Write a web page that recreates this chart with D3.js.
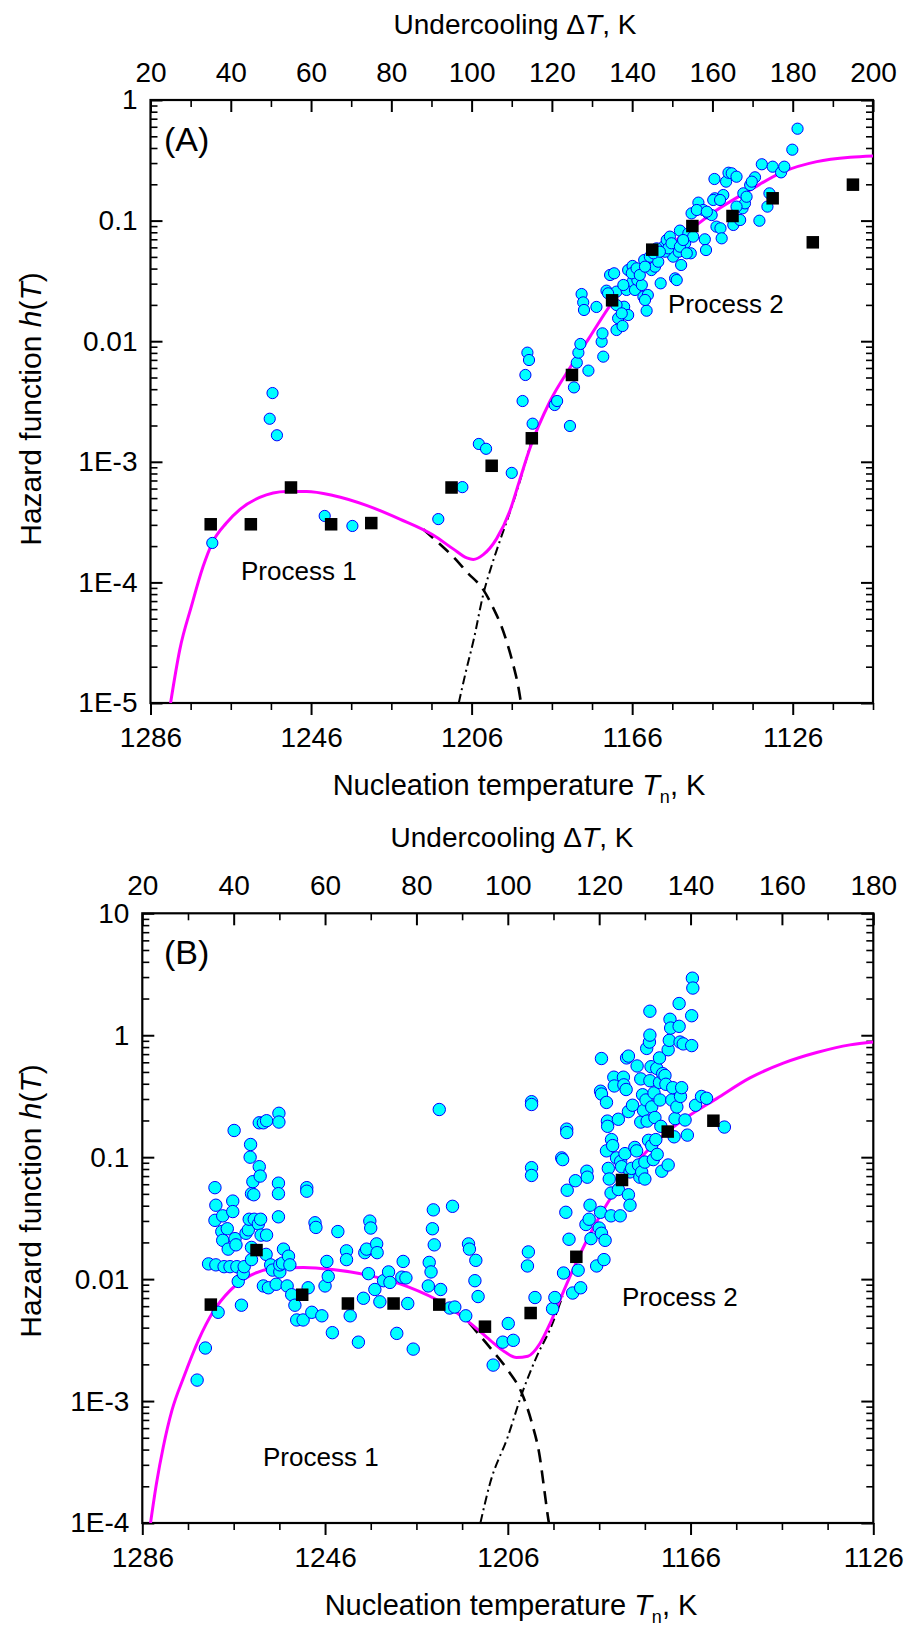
<!DOCTYPE html>
<html>
<head>
<meta charset="utf-8">
<script src="https://cdn.jsdelivr.net/npm/d3@7"></script>
<style>
  body { margin: 0; background: #fff; }
  svg text { font-family: "Liberation Sans", Arial, Helvetica, sans-serif; fill: #000; }
</style>
</head>
<body>
<svg id="chart" width="910" height="1627"></svg>
<script>
// all points are [undercooling dT in K, log10 h(T)]
const tMelt = 1306; // dT = tMelt - Tn

// ---- panel A ----
const aDots = [[35.4,-3.673],[50.4,-2.43],[49.7,-2.643],[51.5,-2.78],[63.4,-3.449],[70.3,-3.532],[91.7,-3.475],
  [97.7,-3.21],[101.8,-2.852],[103.6,-2.892],[110,-3.092],
  [112.7,-2.496],[113.4,-2.28],[113.9,-2.095],[114.3,-2.156],[115.2,-2.684],[120.7,-2.529],[121.3,-2.496],
  [124.5,-2.703],[125.5,-2.383],[126.2,-2.178],[126.6,-2.095],[127.1,-2.023],[129.1,-2.244],[127.4,-1.609],
  [127.8,-1.678],[128.0,-1.741],[131.1,-1.716],[132.4,-2.004],[132.6,-1.935],[132.8,-2.128],[133.6,-1.581],
  [134.5,-1.451],[135.5,-1.437],[136.1,-1.589],[136.5,-1.81],[136.1,-1.907],[137.6,-1.874],[138.0,-1.714],
  [139.0,-1.783],[138.6,-1.575],[139.0,-1.41],[140.1,-1.376],[140.1,-1.506],[140.7,-1.575],[141.3,-1.493],
  [142.4,-1.534],[142.8,-1.631],[143.6,-1.747],[143.9,-1.617],[143.0,-1.327],[144.4,-1.299],[144.8,-1.41],
  [145.7,-1.382],[146.5,-1.341],[147.1,-1.52],[147.8,-1.216],[148.6,-1.161],[149.4,-1.133],[150.2,-1.299],
  [150.7,-1.479],[151.1,-1.493],[151.6,-1.258],[151.9,-1.083],[152.2,-1.368],[153.2,-1.188],[154.0,-1.106],
  [154.8,-0.94],[154.6,-1.271],[155.2,-1.133],[156.5,-0.851],[157.7,-0.912],[158.1,-1.155],[158.4,-1.244],
  [158.9,-0.94],[159.8,-0.954],[160.6,-0.815],[160.5,-0.655],[161.0,-1.05],[162.0,-1.064],[162.3,-1.147],
  [162.7,-0.788],[163.4,-0.677],[164.0,-0.603],[164.8,-0.608],[166.0,-0.636],[165.2,-1.036],[166.9,-0.995],
  [167.5,-0.898],[168.1,-0.857],[167.7,-0.774],[169.4,-0.705],[170.6,-0.641],[171.7,-1.001],[172.3,-0.533],
  [173.7,-0.884],[174.2,-0.774],[175.0,-0.553],[177.1,-0.6],[177.9,-0.553],[179.9,-0.412],[181.2,-0.238],
  [137.8,-1.534],[139.9,-1.437],[141.1,-1.396],[141.9,-1.451],[143.2,-1.382],[145.3,-1.271],[146.1,-1.23],
  [148.2,-1.258],[149.0,-1.23],[149.8,-1.188],[151.9,-1.216],[153.6,-1.271],[156.1,-0.912],[158.6,-0.926],
  [160.2,-0.829],[161.9,-0.829],[166.0,-0.884],[168.5,-0.802],[169.8,-0.677],[136.1,-1.7],[137.4,-1.769],
  [134.0,-1.603],[143.2,-1.658],[146.9,-1.258],[152.7,-1.161]];
const aSquares = [[35,-3.518],[45,-3.518],[55,-3.213],[65,-3.518],[75,-3.508],[95,-3.213],[105,-3.033],
  [115,-2.805],[125,-2.28],[135,-1.661],[145,-1.241],[155,-1.045],[165,-0.962],[175,-0.815],[185,-1.18],[195,-0.702]];
const aFit = [[25.0,-5.0],[27.3,-4.557],[30.2,-4.197],[33.1,-3.869],[35.4,-3.672],[38.9,-3.508],[42.3,-3.394],
  [47.2,-3.295],[53.9,-3.246],[58.9,-3.246],[65.5,-3.279],[73.8,-3.361],[82.1,-3.475],[90.4,-3.607],
  [95.4,-3.722],[98.8,-3.797],[100.4,-3.81],[102.9,-3.77],[106.2,-3.639],[109.5,-3.41],[111.9,-3.16],
  [114.5,-2.89],[119.5,-2.5],[124.9,-2.2],[129.5,-1.962],[135,-1.68],[141.1,-1.437],[147.8,-1.244],
  [154.4,-1.078],[161.1,-0.912],[169.4,-0.746],[177.7,-0.594],[186,-0.511],[194.3,-0.475],[200,-0.464]];
const aProc1 = [[88,-3.56],[92,-3.68],[95.5,-3.79],[99,-3.92],[102.9,-4.06],[105.5,-4.22],[107.5,-4.37],
  [109,-4.52],[110.5,-4.7],[111.6,-4.86],[112.3,-5.0]];
const aProc2 = [[96.8,-5.0],[98.5,-4.75],[100.5,-4.478],[102.9,-4.1],[105,-3.86],[107,-3.66],[109,-3.47],
  [111,-3.27],[113,-3.05],[115,-2.82]];
const aDTTicks = [20,40,60,80,100,120,140,160,180,200];
const aTnTicks = [1286,1246,1206,1166,1126];
const aHTicks = [1e-5,1e-4,1e-3,0.01,0.1,1];
const aHLabels = ["1E-5","1E-4","1E-3","0.01","0.1","1"];

// ---- panel B ----
const bDots = [[33.8,-2.565],[35.9,-1.25],[36.1,-1.394],[35.9,-1.518],[34.5,-1.875],[36.1,-1.883],[36.6,-2.272],
  [37.6,-1.481],[37.4,-1.61],[37.6,-1.682],[38.6,-1.587],[38.8,-1.754],[37.9,-1.898],[39.2,-1.898],[39.8,-1.36],
  [39.8,-1.446],[40.1,-0.781],[40.3,-1.668],[40.5,-1.719],[40.7,-1.898],[41.0,-2.019],[41.7,-2.214],[42.1,-1.955],
  [42.3,-1.898],[42.7,-1.624],[43.2,-1.596],[43.4,-1.509],[43.7,-0.896],[43.6,-1.0],[43.9,-1.299],[44.2,-1.201],
  [44.4,-1.308],[44.5,-1.509],[43.9,-1.74],[43.9,-1.84],[45.4,-1.547],[45.6,-1.078],[45.8,-1.155],[45.9,-1.509],
  [46.0,-1.639],[45.6,-0.718],[46.5,-0.718],[47.2,-0.701],[47.2,-1.639],[47.1,-1.797],[46.5,-2.056],[47.6,-2.071],
  [48.1,-1.883],[48.5,-1.926],[49.3,-2.042],[50.1,-1.941],[50.1,-1.883],[49.8,-1.489],[49.8,-1.213],[49.8,-1.299],
  [49.9,-0.64],[49.9,-0.712],[50.9,-1.754],[50.7,-1.869],[51.7,-2.056],[52.0,-1.812],[52.3,-1.883],[52.7,-2.128],
  [53.4,-2.214],[53.8,-2.335],[55.2,-2.335],[56.3,-2.071],[56.0,-1.25],[56.0,-1.279],[57.1,-2.272],[57.8,-1.538],
  [58.0,-1.576],[59.3,-2.301],[60.0,-2.056],[60.4,-1.855],[60.7,-1.978],[61.6,-2.439],[62.8,-1.61],[64.7,-1.768],
  [64.7,-1.84],[65.5,-2.301],[67.3,-2.517],[68.4,-2.157],[68.7,-1.783],[69.1,-1.754],[69.5,-1.955],[69.8,-1.524],
  [70.0,-1.581],[70.9,-2.085],[71.3,-1.711],[71.4,-1.783],[72.0,-2.186],[72.8,-2.013],[73.9,-1.941],[74.2,-2.027],
  [75.7,-2.445],[76.8,-1.984],[77.1,-1.855],[77.7,-1.99],[78.1,-2.2],[79.3,-2.574],[82.6,-2.056],[82.8,-1.863],
  [83.2,-1.941],[83.5,-1.587],[83.7,-1.432],[83.9,-1.719],[85.0,-0.609],[85.3,-2.085],[87.3,-2.237],[88.4,-2.229],
  [87.9,-1.403],[90.8,-2.301],[91.4,-1.711],[91.6,-1.754],[93.0,-1.846],[92.8,-2.013],[93.5,-2.143],[98.9,-2.517],
  [100.1,-2.364],[101.2,-2.502],[32.0,-2.828],[96.8,-2.705],
  [104.5,-1.777],[104.3,-1.892],[105.2,-0.545],[105.2,-0.568],[105.2,-1.086],[105.2,-1.15],[105.95,-2.151],
  [109.8,-2.243],[110.3,-2.151],[112.2,-1.95],[111.8,-1.006],[112.0,-1.02],[112.9,-0.77],[112.9,-0.798],
  [113.0,-1.271],[112.7,-1.452],[113.4,-1.673],[114.2,-2.114],[114.8,-1.193],[115.4,-1.927],[115.95,-2.071],
  [117.3,-1.115],[117.4,-1.164],[117.1,-1.552],[118.0,-1.394],[118.2,-1.668],[117.8,-1.509],[119.45,-1.892],
  [120.0,-1.581],[120.3,-1.452],[120.5,-1.624],[121.05,-1.84],[121.3,-1.682],[120.5,-0.191],[120.3,-0.459],
  [120.5,-0.482],[121.6,-0.551],[121.8,-0.704],[121.85,-0.747],[121.6,-0.948],[122.0,-1.092],[122.2,-1.179],
  [122.6,-1.294],[122.7,-0.856],[122.95,-0.905],[122.6,-1.481],[123.2,-0.344],[123.3,-0.416],[123.8,-1.006],
  [124.2,-0.689],[124.2,-1.265],[124.6,-1.481],[124.7,-1.035],[124.9,-1.078],[125.3,-0.344],[125.4,-0.407],
  [125.65,-0.971],[125.9,-0.445],[126.0,-0.186],[126.4,-0.171],[126.4,-1.308],[126.4,-0.626],[126.75,-1.394],
  [126.75,-1.121],[127.3,-0.574],[127.1,-1.092],[127.8,-0.92],[128.2,-0.948],[128.3,-0.252],[128.6,-1.064],
  [128.9,-1.164],[129.1,-0.358],[129.1,-0.712],[129.3,-1.121],[129.5,-0.488],[129.7,-0.617],[130.0,-1.179],
  [130.0,-1.04],[130.25,-0.531],[130.4,-0.108],[130.5,-0.704],[130.8,-0.862],[131.0,-0.056],[131.1,-0.373],
  [131.1,0.197],[131.1,0.001],[131.35,-0.258],[131.5,-0.588],[131.5,-0.905],[131.85,-1.02],[132.0,-0.473],
  [132.2,-0.675],[132.4,-0.856],[132.6,-0.272],[132.7,-0.977],[133.2,-0.186],[133.2,-0.387],[133.3,-0.531],
  [133.5,-0.747],[133.7,-1.115],[133.9,-0.315],[134.4,-0.33],[134.6,-0.402],[135.1,-1.064],[135.1,-0.119],
  [135.35,-0.042],[135.5,0.131],[135.65,0.059],[135.9,-0.531],[136.1,-0.43],[136.4,-0.833],[136.6,-0.684],
  [137.0,-0.588],[137.5,0.26],[137.5,0.073],[137.7,-0.056],[137.8,-0.502],[138.05,-0.43],[138.8,-0.695],
  [138.4,-0.071],[139.3,-0.819],[140.25,-0.085],[140.4,0.468],[140.5,0.387],[140.25,0.16],[141.1,-0.574],
  [142.4,-0.502],[143.5,-0.517],[147.4,-0.753]];
const bSquares = [[35,-2.209],[45,-1.762],[55,-2.128],[65,-2.2],[75,-2.2],[85,-2.209],[95,-2.39],[105,-2.278],
  [115,-1.817],[125,-1.187],[135,-0.79],[145,-0.701]];
const bFit = [[21.8,-4.0],[23.1,-3.676],[24.6,-3.375],[26.5,-3.075],[29.1,-2.801],[32.3,-2.5],[35.5,-2.268],
  [39.3,-2.09],[43.8,-1.967],[48.9,-1.912],[55.3,-1.904],[61.6,-1.921],[69.3,-1.967],[78.2,-2.063],[85.9,-2.2],
  [92.3,-2.377],[96.1,-2.5],[99.3,-2.596],[101.9,-2.643],[104.4,-2.632],[107,-2.53],[109.3,-2.36],[112.2,-2.1],
  [114.9,-1.87],[118,-1.63],[121.6,-1.39],[125.3,-1.18],[129.7,-0.98],[134.8,-0.795],[139.9,-0.655],
  [145.7,-0.52],[153,-0.35],[160.3,-0.229],[167.6,-0.142],[174.9,-0.079],[180,-0.056]];
const bProc1 = [[88,-2.25],[91,-2.34],[93.6,-2.45],[96.5,-2.58],[100,-2.746],[103.1,-2.938],[105.3,-3.184],
  [107,-3.457],[108,-3.731],[108.9,-3.977],[109,-4.0]];
const bProc2 = [[94,-4.0],[96.1,-3.676],[100,-3.293],[103.1,-2.938],[106.3,-2.637],[109.5,-2.39],[112,-2.14]];
const bDTTicks = [20,40,60,80,100,120,140,160,180];
const bTnTicks = [1286,1246,1206,1166,1126];
const bHTicks = [1e-4,1e-3,0.01,0.1,1,10];
const bHLabels = ["1E-4","1E-3","0.01","0.1","1","10"];

const svg = d3.select("#chart");

function axisStyle(g) {
  g.select(".domain").remove();
  g.attr("font-size", 28).attr("font-family", null);
  g.selectAll(".tick line").attr("stroke", "#000");
  g.selectAll(".tick text").attr("fill", "#000");
}

function drawPanel(p) {
  const x = d3.scaleLinear().domain([p.dTTicks[0], p.dTTicks[p.dTTicks.length - 1]]).range([p.left, p.right]);
  const xT = d3.scaleLinear().domain([tMelt - x.domain()[0], tMelt - x.domain()[1]]).range([p.left, p.right]);
  const y = d3.scaleLog().domain([p.hTicks[0], p.hTicks[p.hTicks.length - 1]]).range([p.bottom, p.top]);
  const g = svg.append("g");
  const yv = d => y(Math.pow(10, d[1]));

  // minor ticks first
  const minorH = y.ticks().filter(v => !p.hTicks.some(t => Math.abs(t - v) / t < 1e-6));
  const minorDT = d3.range(x.domain()[0], x.domain()[1] + 1, 10).filter(v => !p.dTTicks.includes(v));
  const minorTn = d3.range(xT.domain()[0], xT.domain()[1] - 1, -10).filter(v => !p.tnTicks.includes(v));

  g.append("g").attr("transform", `translate(${p.left},0)`)
    .call(d3.axisLeft(y).tickValues(minorH).tickSize(-7).tickFormat(""))
    .call(axisStyle).selectAll("line").attr("stroke-width", 1.6);
  g.append("g").attr("transform", `translate(${p.right},0)`)
    .call(d3.axisRight(y).tickValues(minorH).tickSize(-7).tickFormat(""))
    .call(axisStyle).selectAll("line").attr("stroke-width", 1.6);
  g.append("g").attr("transform", `translate(0,${p.top})`)
    .call(d3.axisTop(x).tickValues(minorDT).tickSize(-7).tickFormat(""))
    .call(axisStyle).selectAll("line").attr("stroke-width", 1.6);
  g.append("g").attr("transform", `translate(0,${p.bottom})`)
    .call(d3.axisBottom(xT).tickValues(minorTn).tickSize(7).tickFormat(""))
    .call(axisStyle).selectAll("line").attr("stroke-width", 1.6);

  // major ticks + labels
  g.append("g").attr("transform", `translate(${p.left},0)`)
    .call(d3.axisLeft(y).tickValues(p.hTicks).tickSize(-12).tickPadding(13)
      .tickFormat((d, i) => p.hLabels[i]))
    .call(axisStyle).selectAll("line").attr("stroke-width", 2);
  g.append("g").attr("transform", `translate(${p.right},0)`)
    .call(d3.axisRight(y).tickValues(p.hTicks).tickSize(-12).tickFormat(""))
    .call(axisStyle).selectAll("line").attr("stroke-width", 2);
  g.append("g").attr("transform", `translate(0,${p.top})`)
    .call(d3.axisTop(x).tickValues(p.dTTicks).tickSize(-12).tickPadding(18).tickFormat(d3.format("d")))
    .call(axisStyle).selectAll("line").attr("stroke-width", 2);
  g.append("g").attr("transform", `translate(0,${p.bottom})`)
    .call(d3.axisBottom(xT).tickValues(p.tnTicks).tickSize(12).tickPadding(12).tickFormat(d3.format("d")))
    .call(axisStyle).selectAll("line").attr("stroke-width", 2);

  // frame
  g.append("rect").attr("x", p.left).attr("y", p.top)
    .attr("width", p.right - p.left).attr("height", p.bottom - p.top)
    .attr("fill", "none").attr("stroke", "#000").attr("stroke-width", 2.2);

  const clipId = "clip" + p.id;
  g.append("clipPath").attr("id", clipId).append("rect")
    .attr("x", p.left).attr("y", p.top).attr("width", p.right - p.left).attr("height", p.bottom - p.top);
  const plot = g.append("g").attr("clip-path", `url(#${clipId})`);

  const line = d3.line().x(d => x(d[0])).y(yv).curve(d3.curveMonotoneX);

  plot.append("path").datum(p.proc1).attr("d", line)
    .attr("fill", "none").attr("stroke", "#000").attr("stroke-width", 2.6).attr("stroke-dasharray", "13,8");
  plot.append("path").datum(p.proc2).attr("d", line)
    .attr("fill", "none").attr("stroke", "#000").attr("stroke-width", 2).attr("stroke-dasharray", "9,4,2,4");
  plot.append("path").datum(p.fit).attr("d", line)
    .attr("fill", "none").attr("stroke", "#ff00ff").attr("stroke-width", 3);

  plot.selectAll("circle").data(p.dots).enter().append("circle")
    .attr("cx", d => x(d[0])).attr("cy", yv).attr("r", p.r)
    .attr("fill", "#00ffff").attr("stroke", "#0000ff").attr("stroke-width", 1);

  const s = 12.5;
  plot.selectAll("rect.sq").data(p.squares).enter().append("rect").attr("class", "sq")
    .attr("x", d => x(d[0]) - s / 2).attr("y", d => yv(d) - s / 2)
    .attr("width", s).attr("height", s).attr("fill", "#000");

  // texts
  const top = g.append("text").attr("x", p.titleX).attr("y", p.top - 66)
    .attr("text-anchor", "middle").attr("font-size", 28);
  top.append("tspan").text("Undercooling \u0394");
  top.append("tspan").attr("font-style", "italic").text("T");
  top.append("tspan").text(", K");

  const bot = g.append("text").attr("x", p.botX).attr("y", p.bottom + 92)
    .attr("text-anchor", "middle").attr("font-size", 29);
  bot.append("tspan").text("Nucleation temperature ");
  bot.append("tspan").attr("font-style", "italic").text("T");
  bot.append("tspan").attr("font-size", 18).attr("dy", 8).text("n");
  bot.append("tspan").attr("dy", -8).text(", K");

  const yt = g.append("text").attr("transform", `translate(41,${p.yTitleY}) rotate(-90)`)
    .attr("text-anchor", "middle").attr("font-size", 30);
  yt.append("tspan").text("Hazard function ");
  yt.append("tspan").attr("font-style", "italic").text("h");
  yt.append("tspan").text("(");
  yt.append("tspan").attr("font-style", "italic").text("T");
  yt.append("tspan").text(")");

  g.append("text").attr("x", 164).attr("y", p.top + 51).attr("font-size", 34).text(p.name);
  g.append("text").attr("x", p.p1[0]).attr("y", p.p1[1]).attr("font-size", 26).text("Process 1");
  g.append("text").attr("x", p.p2[0]).attr("y", p.p2[1]).attr("font-size", 26).text("Process 2");
}

drawPanel({
  id: "A", name: "(A)", left: 150.5, right: 873, top: 100, bottom: 703, r: 5.6,
  dTTicks: aDTTicks, tnTicks: aTnTicks, hTicks: aHTicks, hLabels: aHLabels,
  dots: aDots, squares: aSquares, fit: aFit, proc1: aProc1, proc2: aProc2,
  titleX: 515, botX: 519, yTitleY: 409, p1: [241, 580], p2: [668, 313]
});
drawPanel({
  id: "B", name: "(B)", left: 142.3, right: 873.3, top: 913.3, bottom: 1523, r: 6.2,
  dTTicks: bDTTicks, tnTicks: bTnTicks, hTicks: bHTicks, hLabels: bHLabels,
  dots: bDots, squares: bSquares, fit: bFit, proc1: bProc1, proc2: bProc2,
  titleX: 512, botX: 511, yTitleY: 1201, p1: [263, 1466], p2: [622, 1306]
});
</script>
</body>
</html>
